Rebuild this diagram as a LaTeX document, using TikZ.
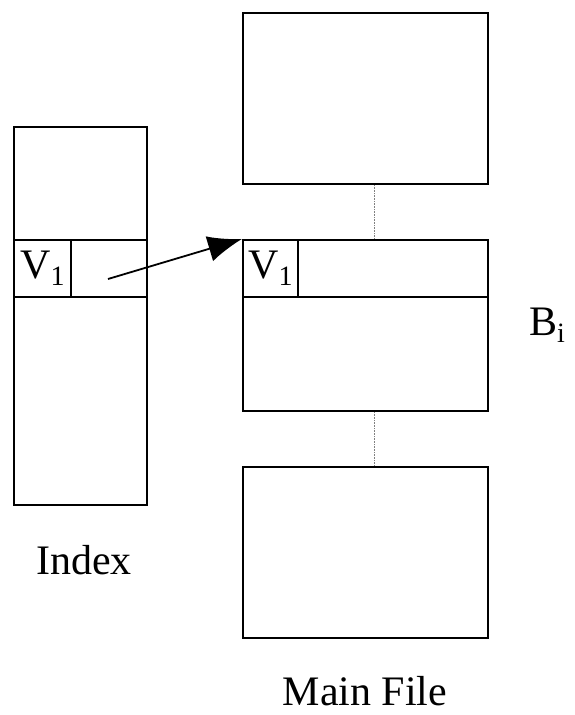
\documentclass[tikz,border=0pt]{standalone}
\usepackage{fontspec}
\setmainfont{Liberation Serif}
\usetikzlibrary{arrows.meta,positioning}

\newcommand{\lowidx}[1]{\raisebox{-7pt}{\fontsize{28}{30}\selectfont #1}}

\begin{document}
\begin{tikzpicture}[x=1pt,y=-1pt,
      >={Latex[length=34pt,width=26pt]},
      box/.style={draw,line width=2pt,inner sep=0pt},
      lbl/.style={font=\fontsize{42}{48}\selectfont,inner sep=0pt},
      link/.style={gray,line width=0.6pt,densely dotted} ]
      \useasboundingbox (0,0) rectangle (574,715);
      % index
      \node[box,minimum width=133pt,minimum height=378pt] (idx) at (80.5,316) {};
      \node[box,minimum width=133pt,minimum height=57pt] (irow) at (80.5,268.5) {};
      \node[box,minimum width=57pt,minimum height=57pt,lbl] (iv) at (42.5,268.5) {V\lowidx{1}};
      \coordinate (ptr) at (108,279);
      % main file blocks
      \node[box,minimum width=245pt,minimum height=171pt] (top) at (365.5,98.5) {};
      \node[box,minimum width=245pt,minimum height=171pt] (mid) at (365.5,325.5) {};
      \node[box,minimum width=245pt,minimum height=57pt] (mrow) at (365.5,268.5) {};
      \node[box,minimum width=55pt,minimum height=57pt,lbl] (mv) at (270.5,268.5) {V\lowidx{1}};
      \node[box,minimum width=245pt,minimum height=171pt] (bot) at (365.5,552.5) {};
      \draw[link] ([xshift=8.5pt]top.south) -- ([xshift=8.5pt]mid.north);
      \draw[link] ([xshift=8.5pt]mid.south) -- ([xshift=8.5pt]bot.north);
      \draw[->,line width=1.8pt] (ptr) -- (mid.north west);
      % labels
      \node[lbl] (ilbl) at (84,560) {Index};
      \node[lbl] (mlbl) at (365,691) {Main File};
      \node[lbl,anchor=west] (blbl) at (529,325) {B\lowidx{i}};
    \end{tikzpicture}
\end{document}
